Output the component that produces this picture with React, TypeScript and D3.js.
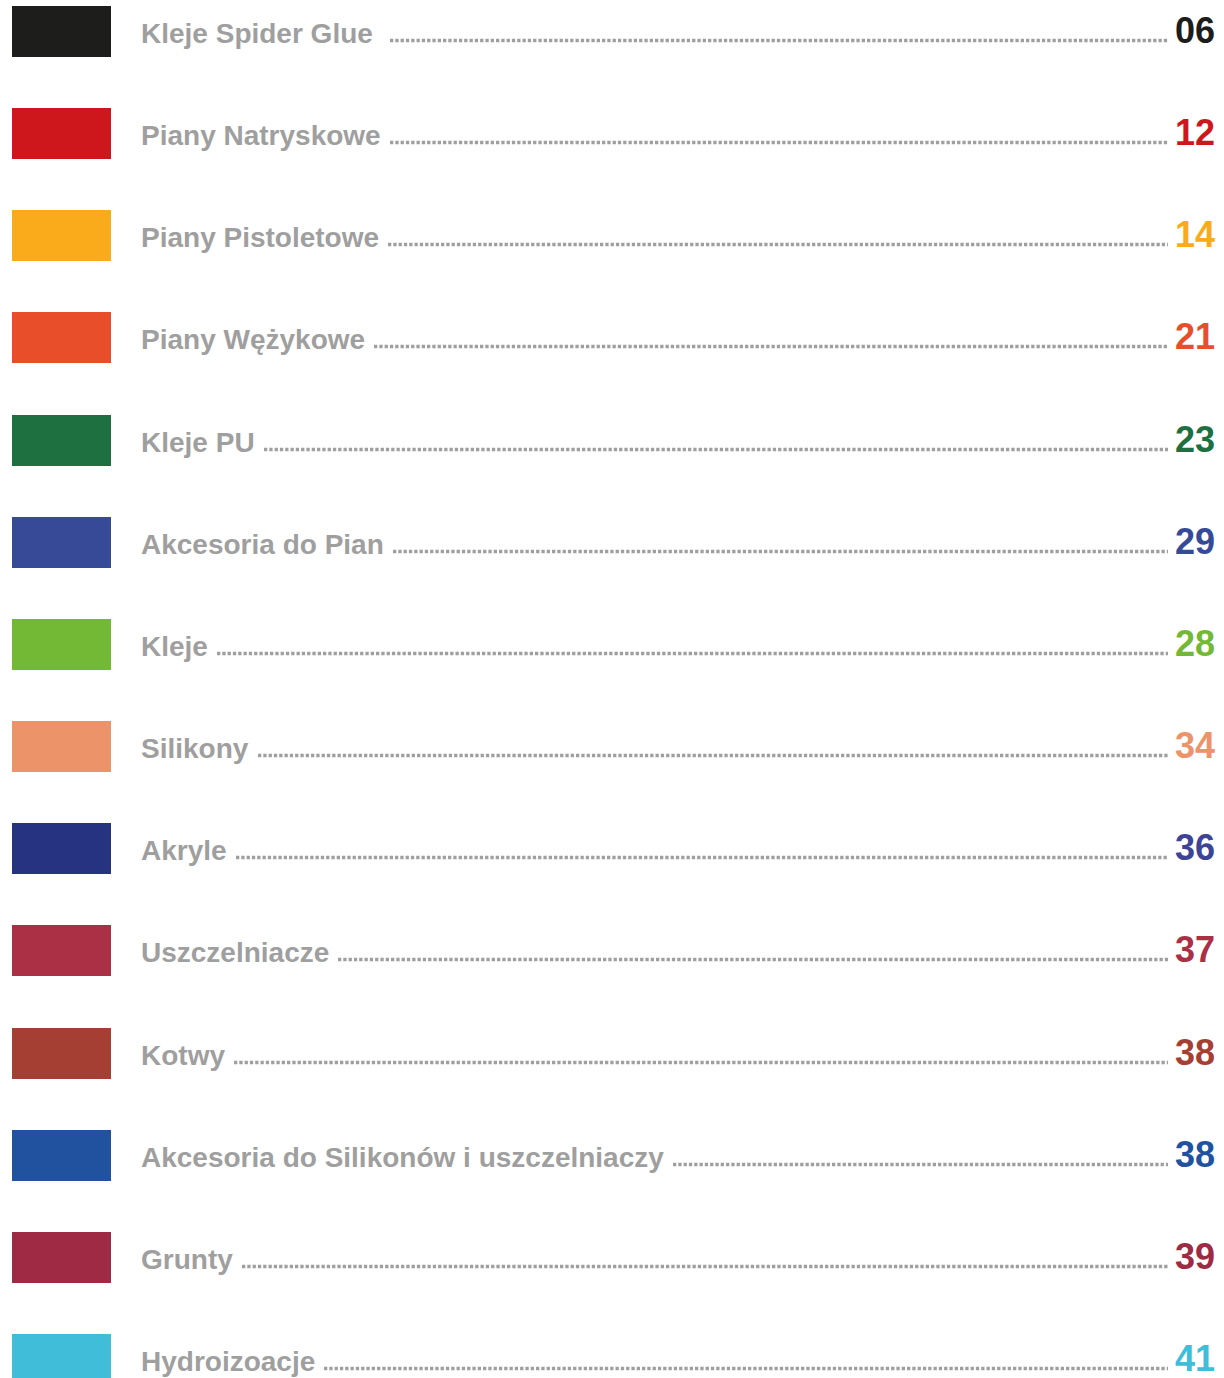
import { useRef, useEffect } from 'react';
import * as d3 from 'd3';

const labels = [
  'Kleje Spider Glue',
  'Piany Natryskowe',
  'Piany Pistoletowe',
  'Piany Wężykowe',
  'Kleje PU',
  'Akcesoria do Pian',
  'Kleje',
  'Silikony',
  'Akryle',
  'Uszczelniacze',
  'Kotwy',
  'Akcesoria do Silikonów i uszczelniaczy',
  'Grunty',
  'Hydroizoacje',
];

const pages = ['06', '12', '14', '21', '23', '29', '28', '34', '36', '37', '38', '38', '39', '41'];

const swatchColors = [
  '#1d1d1b', '#cd171d', '#f9ab1b', '#e94e2b', '#1f7040', '#364a97', '#74b936',
  '#ec936a', '#263381', '#ab3045', '#a63f33', '#2152a0', '#9e2a43', '#40bdd9',
];

const pageColors = [
  '#1d1d1b', '#cd171d', '#f9ab1b', '#e94e2b', '#1f7040', '#364a97', '#74b936',
  '#ec936a', '#3d4496', '#ab3045', '#a63f33', '#2152a0', '#9e2a43', '#40bdd9',
];

export default function App() {
  const ref = useRef<SVGSVGElement>(null);

  useEffect(() => {
    if (!ref.current) return;
    const svg = d3.select(ref.current);
    svg.selectAll('*').remove();

    const y = d3.scaleLinear().domain([0, labels.length - 1]).range([6, 1334]);
    const gray = '#9f9f9f';

    const rows = svg.selectAll('g.row')
      .data(labels)
      .enter()
      .append('g')
      .attr('class', 'row')
      .attr('transform', (_, i) => `translate(0, ${Math.round(y(i))})`);

    rows.append('rect')
      .attr('x', 12)
      .attr('y', 0)
      .attr('width', 99)
      .attr('height', 51)
      .attr('fill', (_, i) => swatchColors[i]);

    const label = rows.append('text')
      .attr('x', 141)
      .attr('y', 37)
      .style('font-family', '"Liberation Sans", Arial, sans-serif')
      .style('font-weight', '700')
      .style('font-size', '28px')
      .style('fill', gray)
      .text((d) => d);

    const num = rows.append('text')
      .attr('x', 1215)
      .attr('y', 37)
      .attr('text-anchor', 'end')
      .style('font-family', '"Liberation Sans", Arial, sans-serif')
      .style('font-weight', '700')
      .style('font-size', '36px')
      .style('fill', (_, i) => pageColors[i])
      .text((_, i) => pages[i]);

    const labelNodes = label.nodes() as SVGTextElement[];
    const numNodes = num.nodes() as SVGTextElement[];

    // dotted leaders between label and page number
    rows.append('line')
      .attr('x1', (_, i) => {
        const b = labelNodes[i].getBBox();
        return Math.round(b.x + b.width + (i === 0 ? 17 : 9));
      })
      .attr('x2', (_, i) => Math.round(numNodes[i].getBBox().x - 7))
      .attr('y1', 34.5)
      .attr('y2', 34.5)
      .attr('stroke', gray)
      .attr('stroke-width', 3.3)
      .attr('stroke-dasharray', '3.3 2');
  }, []);

  return (
    <svg
      ref={ref}
      width={1224}
      height={1378}
      style={{ position: 'absolute', left: 0, top: 0, background: '#fff' }}
    />
  );
}
